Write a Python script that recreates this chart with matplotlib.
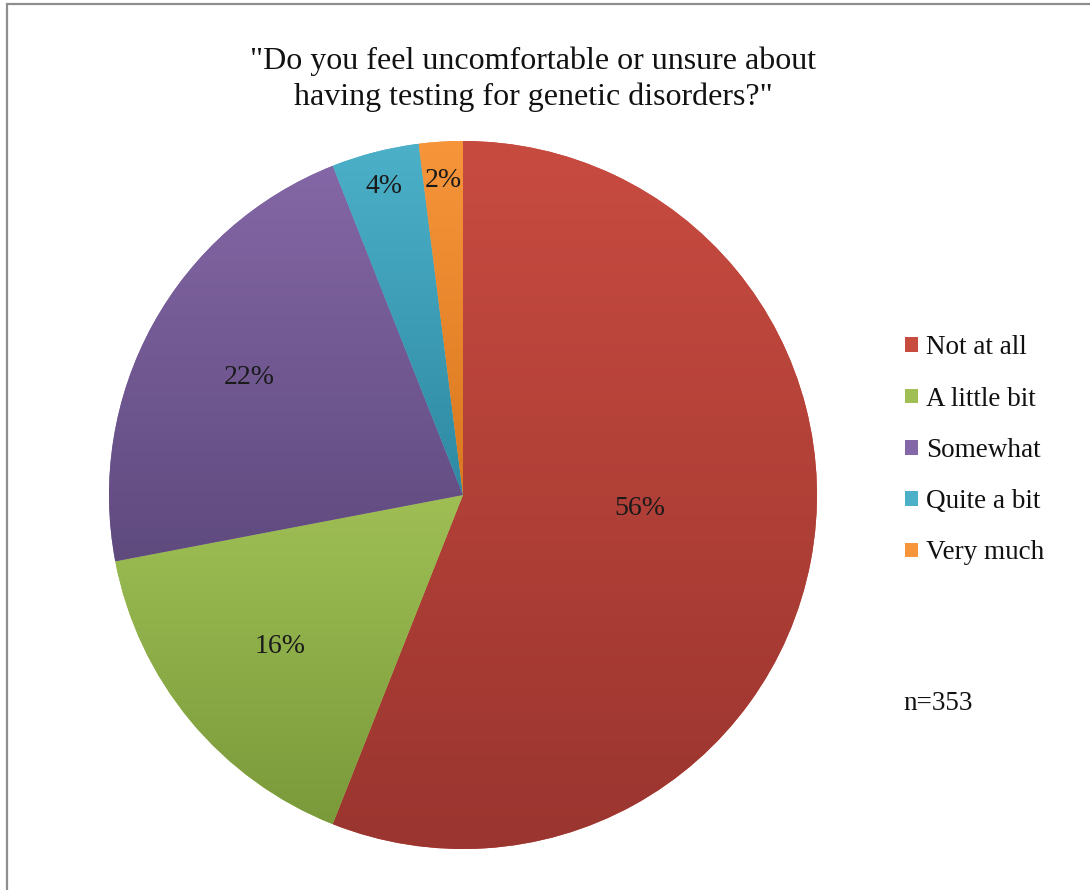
import numpy as np
import matplotlib
matplotlib.use("Agg")
import matplotlib.pyplot as plt
from matplotlib.colors import LinearSegmentedColormap
from matplotlib.patches import Rectangle

plt.rcParams['font.family'] = ['Liberation Serif', 'DejaVu Serif']

# survey answers
categorias = ["Not at all", "A little bit", "Somewhat", "Quite a bit", "Very much"]
porcentajes = [56, 16, 22, 4, 2]
n_total = 353

# top / bottom shade of each slice
color_arriba = ["#c84b40", "#9fbf55", "#8467a6", "#4cb0c9", "#f6953a"]
color_abajo = ["#9a352f", "#7a9a3b", "#5f4a7e", "#2f89a2", "#d9781e"]
dist_etiqueta = [0.5, 0.67, 0.69, 0.9, 0.89]
giro_etiqueta = [6.5, 0, 0, 0, 0]

W, H = 1090, 890
fig = plt.figure(figsize=(W / 100, H / 100), dpi=100)

# marco gris del grafico
fig.patches.append(Rectangle((7 / W, -0.1), 1.2, (H - 4) / H + 0.1, transform=fig.transFigure,
                             fill=False, edgecolor="#8e8e8e", linewidth=1.6))

cx, cy, r = 463, H - 495, 354
ax = fig.add_axes([(cx - r) / W, (cy - r) / H, 2 * r / W, 2 * r / H])
ax.axis("off")

wedges, _ = ax.pie(porcentajes, startangle=90, counterclock=False, radius=1,
                   colors=color_arriba, wedgeprops=dict(linewidth=0))

for w, c1, c2, d, g, p in zip(wedges, color_arriba, color_abajo, dist_etiqueta, giro_etiqueta, porcentajes):
    ext = w.get_path().get_extents()
    cmap = LinearSegmentedColormap.from_list("g", [c2, c1])
    grad = np.linspace(0, 1, 256).reshape(-1, 1)
    im = ax.imshow(grad, cmap=cmap, origin="lower", aspect="auto",
                   extent=[ext.x0, ext.x1, ext.y0, ext.y1], zorder=w.get_zorder() + 0.1)
    im.set_clip_path(w)
    ang = np.deg2rad((w.theta1 + w.theta2) / 2 + g)
    ax.text(d * np.cos(ang), d * np.sin(ang), f"{p}%", ha="center", va="center",
            fontsize=20, color="#1a1a1a", zorder=5)

ax.set_xlim(-1, 1)
ax.set_ylim(-1, 1)

fig.text(533 / W, 1 - 79 / H, '"Do you feel uncomfortable or unsure about\nhaving testing for genetic disorders?"',
         ha="center", va="center", fontsize=23, linespacing=1.3, color="#111111")

# leyenda
ley = ax.legend(wedges, categorias, loc="upper left", bbox_to_anchor=(881 / W, 1 - 311 / H),
                bbox_transform=fig.transFigure, frameon=False, fontsize=19.5,
                handlelength=0.45, handleheight=0.45, handletextpad=0.3, labelspacing=0.97)
for t in ley.get_texts():
    t.set_color("#111111")

fig.text(903 / W, 1 - 703 / H, f"n={n_total}", ha="left", va="center", fontsize=19.5, color="#111111")

fig.savefig("out.png", dpi=100)
